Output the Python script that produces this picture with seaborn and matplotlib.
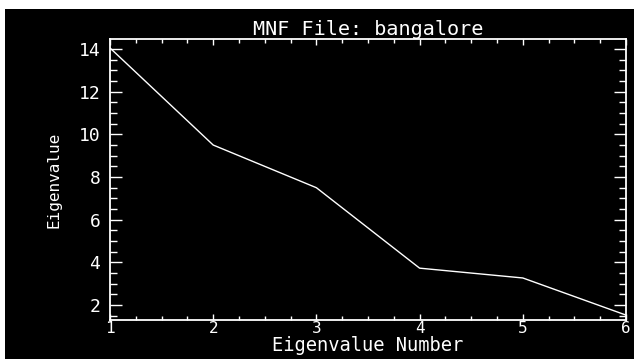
import matplotlib
matplotlib.use("Agg")
import matplotlib.pyplot as plt
import seaborn as sns
import pandas as pd
from matplotlib.patches import Rectangle
from matplotlib.ticker import MultipleLocator

eig_number = [1, 2, 3, 4, 5, 6]
eig_value = [14.05, 9.5, 7.5, 3.73, 3.27, 1.53]
x_ticks = [1, 2, 3, 4, 5, 6]
y_ticks = [2, 4, 6, 8, 10, 12, 14]

df = pd.DataFrame({"n": eig_number, "v": eig_value})

sns.set_style("dark")
plt.rcParams["font.family"] = ["DejaVu Sans Mono", "DejaVu Sans"]

W, H = 634, 359
fig = plt.figure(figsize=(W / 100, H / 100), dpi=100)
fig.patch.set_facecolor("white")
fig.patches.append(Rectangle((5 / W, 0), 1 - 5 / W, 1 - 9 / H, transform=fig.transFigure,
                             facecolor="black", edgecolor="none", zorder=-10))

ax = fig.add_axes([110 / W, 1 - 320 / H, (626 - 110) / W, (320 - 39) / H])
ax.set_facecolor("black")
sns.lineplot(data=df, x="n", y="v", ax=ax, color="white", linewidth=1.0)

ax.set_xlim(1, 6)
ax.set_ylim(1.3, 14.47)
ax.set_xticks(x_ticks)
ax.set_yticks(y_ticks)
ax.xaxis.set_minor_locator(MultipleLocator(0.25))
ax.yaxis.set_minor_locator(MultipleLocator(0.5))
ax.grid(False)
for s in ax.spines.values():
    s.set_visible(True)
    s.set_color("white")
    s.set_linewidth(1.3)

ax.tick_params(axis="x", which="major", direction="in", length=4.5, width=1, color="white",
               labelcolor="white", labelsize=11.5, top=True, bottom=True, pad=0.5)
ax.tick_params(axis="x", which="minor", direction="in", length=2.8, width=1, color="white",
               top=True, bottom=True)
ax.tick_params(axis="y", which="major", direction="in", length=8.5, width=1, color="white",
               labelcolor="white", labelsize=13, left=True, right=True, pad=7)
ax.tick_params(axis="y", which="minor", direction="in", length=5, width=1, color="white",
               left=True, right=True)

ax.set_title("MNF File: bangalore", color="white", fontsize=14.5, pad=3)
ax.set_xlabel("Eigenvalue Number", color="white", fontsize=13.5, labelpad=0)
ax.set_ylabel("Eigenvalue", color="white", fontsize=11.5, labelpad=12)

fig.savefig("out.png", dpi=100, facecolor=fig.get_facecolor())
